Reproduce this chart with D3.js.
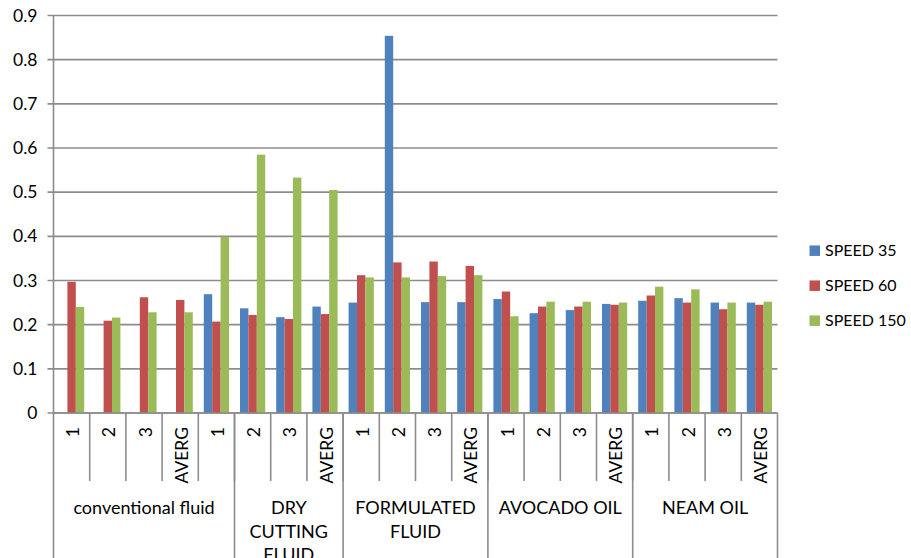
<!DOCTYPE html>
<html>
<head>
<meta charset="utf-8">
<script src="https://cdn.jsdelivr.net/npm/d3@7"></script>
<style>
  html, body { margin: 0; padding: 0; background: #fff; }
  svg { display: block; }
  text { font-family: Lato, "Noto Sans", sans-serif; fill: #000; }
</style>
</head>
<body>
<svg id="chart" width="911" height="558"></svg>
<script>
// ---- data ----
const categories = ["1","2","3","AVERG","1","2","3","AVERG","1","2","3","AVERG","1","2","3","AVERG","1","2","3","AVERG"];
const groupNames = ["conventional fluid", "DRY CUTTING FLUID", "FORMULATED FLUID", "AVOCADO OIL", "NEAM OIL"];
const groupSpans = [5, 3, 4, 4, 4];
const seriesNames = ["SPEED 35", "SPEED 60", "SPEED 150"];
const speed35  = [null, null, null, null, 0.269, 0.237, 0.217, 0.241, 0.250, 0.854, 0.251, 0.251, 0.258, 0.226, 0.233, 0.247, 0.254, 0.260, 0.250, 0.250];
const speed60  = [0.297, 0.209, 0.262, 0.256, 0.207, 0.222, 0.213, 0.224, 0.312, 0.341, 0.343, 0.333, 0.275, 0.241, 0.241, 0.245, 0.266, 0.250, 0.235, 0.245];
const speed150 = [0.240, 0.216, 0.228, 0.228, 0.399, 0.585, 0.533, 0.505, 0.307, 0.307, 0.310, 0.312, 0.219, 0.252, 0.252, 0.250, 0.286, 0.280, 0.250, 0.252];
const yTicks = [0, 0.1, 0.2, 0.3, 0.4, 0.5, 0.6, 0.7, 0.8, 0.9];
const colors = ["#4F81BD", "#C0504D", "#9BBB59"];

const seriesValues = [speed35, speed60, speed150];

// ---- layout ----
const svg = d3.select("#chart");
const x0 = 53.5, x1 = 777.5, yBottom = 413, yTop = 15.5;
const fontSize = 17.5;

const idx = categories.map((c, i) => i);
const x = d3.scaleBand().domain(idx).range([x0, x1]).padding(0);
const xs = d3.scaleBand().domain(d3.range(seriesNames.length)).range([0, x.bandwidth()]).paddingInner(0).paddingOuter(0.655);
const y = d3.scaleLinear().domain([0, 0.9]).range([yBottom, yTop]);

// gridlines
svg.append("g").selectAll("line").data(yTicks).join("line")
  .attr("x1", x0 - 6).attr("x2", x1)
  .attr("y1", d => y(d)).attr("y2", d => y(d))
  .attr("stroke", "#8c8c8c").attr("stroke-width", 1.6);

// y axis line
svg.append("line").attr("x1", x0).attr("x2", x0).attr("y1", yTop).attr("y2", yBottom)
  .attr("stroke", "#8c8c8c").attr("stroke-width", 1.6);

// y tick labels
svg.append("g").selectAll("text").data(yTicks).join("text")
  .attr("x", x0 - 16).attr("y", d => y(d)).attr("dy", "0.35em")
  .attr("text-anchor", "end").attr("font-size", fontSize)
  .text(d => d === 0 ? "0" : d3.format(".1f")(d));

// bars
const barData = [];
seriesValues.forEach((vals, s) => vals.forEach((v, i) => { if (v !== null) barData.push({ s, i, v }); }));
svg.append("g").selectAll("rect").data(barData).join("rect")
  .attr("x", d => x(d.i) + xs(d.s))
  .attr("width", xs.bandwidth())
  .attr("y", d => y(d.v))
  .attr("height", d => yBottom - y(d.v))
  .attr("fill", d => colors[d.s]);

// category tick lines (short)
const axisG = svg.append("g");
axisG.selectAll("line.cat").data(idx.slice(1)).join("line").attr("class", "cat")
  .attr("x1", d => x(d)).attr("x2", d => x(d))
  .attr("y1", yBottom).attr("y2", 481)
  .attr("stroke", "#8c8c8c").attr("stroke-width", 1.6);

// group boundaries (long)
const bounds = [0];
groupSpans.forEach(s => bounds.push(bounds[bounds.length - 1] + s));
axisG.selectAll("line.grp").data(bounds).join("line").attr("class", "grp")
  .attr("x1", d => d < categories.length ? x(d) : x1).attr("x2", d => d < categories.length ? x(d) : x1)
  .attr("y1", yBottom).attr("y2", 560)
  .attr("stroke", "#8c8c8c").attr("stroke-width", 1.6);

// x axis line
axisG.append("line").attr("x1", x0).attr("x2", x1).attr("y1", yBottom).attr("y2", yBottom)
  .attr("stroke", "#8c8c8c").attr("stroke-width", 1.6);

// category labels (rotated)
axisG.selectAll("text.cat").data(idx).join("text").attr("class", "cat")
  .attr("transform", d => `translate(${x(d) + x.bandwidth() / 2 + 1.5},427) rotate(-90)`)
  .attr("dy", "0.35em").attr("text-anchor", "end").attr("font-size", fontSize)
  .text(d => categories[d]);

// group labels (wrapped)
const groupData = groupNames.map((name, g) => {
  const a = bounds[g], b = bounds[g + 1];
  const left = x(a), right = b < categories.length ? x(b) : x1;
  return { name, cx: (left + right) / 2, w: right - left };
});
const gl = axisG.selectAll("text.grp").data(groupData).join("text").attr("class", "grp")
  .attr("text-anchor", "middle").attr("font-size", 18);
gl.each(function (d) {
  const t = d3.select(this);
  const words = d.name.split(" ");
  const lines = [];
  let line = [];
  const probe = t.append("tspan");
  words.forEach(wd => {
    const test = line.concat(wd).join(" ");
    probe.text(test);
    if (probe.node().getComputedTextLength() > d.w - 12 && line.length) {
      lines.push(line.join(" "));
      line = [wd];
    } else line.push(wd);
  });
  lines.push(line.join(" "));
  probe.remove();
  lines.forEach((ln, k) => {
    t.append("tspan").attr("x", d.cx).attr("y", 508 + k * 23.5).attr("dy", "0.35em").text(ln);
  });
});

// legend
const lg = svg.append("g").selectAll("g").data(seriesNames).join("g")
  .attr("transform", (d, i) => `translate(809.5,${250.7 + i * 35})`);
lg.append("rect").attr("x", 0).attr("y", -5.25).attr("width", 10.5).attr("height", 10.5)
  .attr("fill", (d, i) => colors[i]);
lg.append("text").attr("x", 15.5).attr("y", 0).attr("dy", "0.35em").attr("font-size", 16)
  .text(d => d);
</script>
</body>
</html>
